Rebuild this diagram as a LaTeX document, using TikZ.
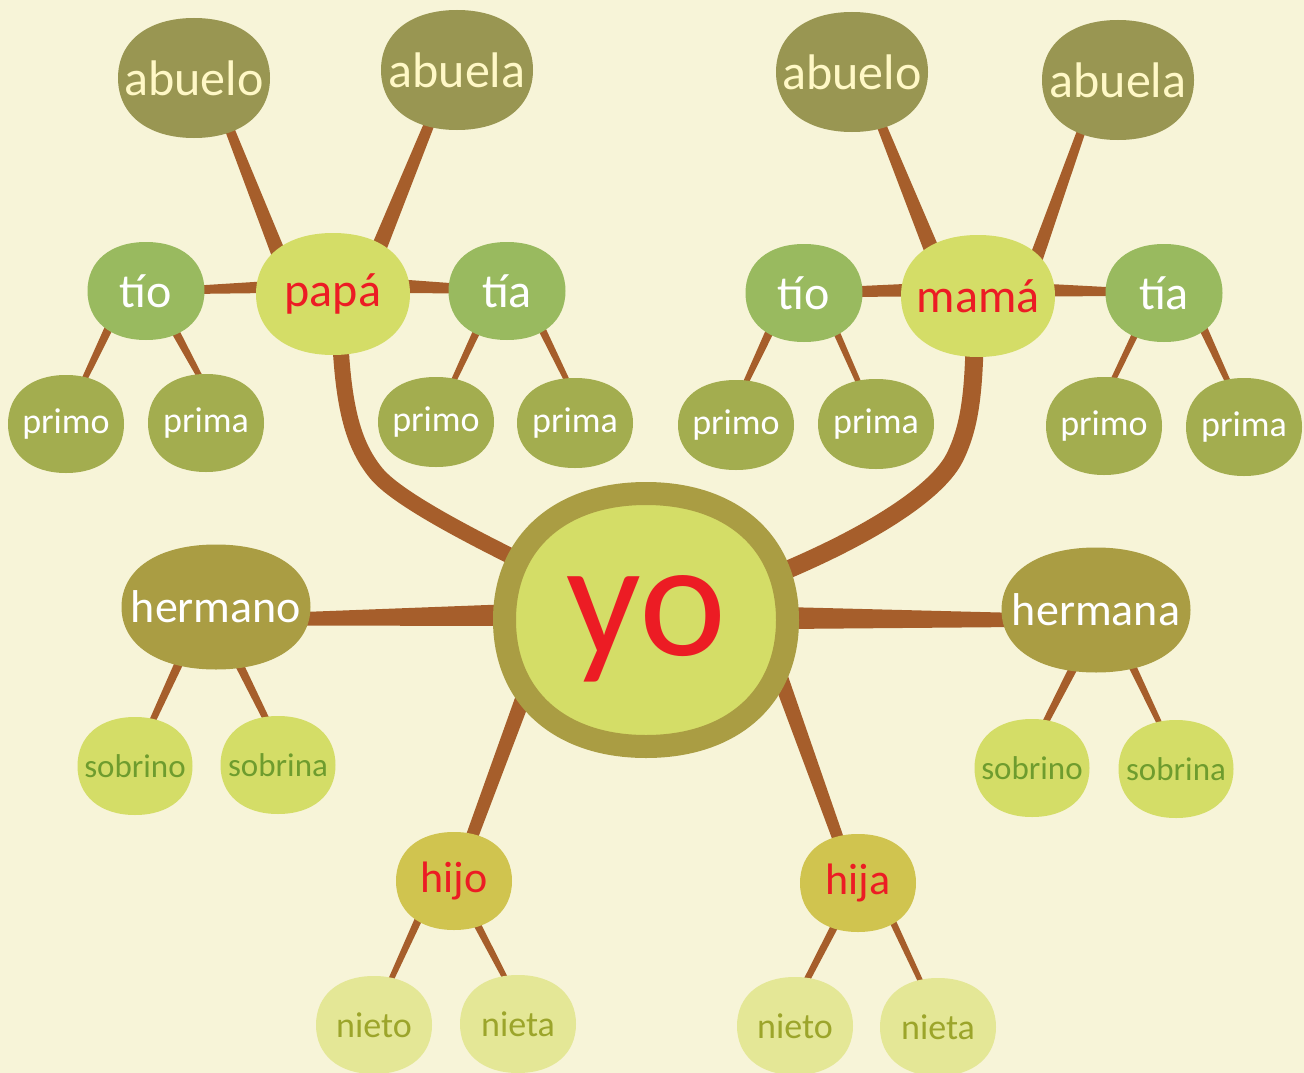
\documentclass[tikz,border=0pt]{standalone}
\usepackage{fontspec}
\setmainfont{Carlito}
\usetikzlibrary{calc}
\definecolor{cBg}{HTML}{F7F4D8}
\definecolor{cAbu}{HTML}{999652}
\definecolor{cAbuT}{HTML}{FFF8C6}
\definecolor{cPar}{HTML}{D4DD67}
\definecolor{cRed}{HTML}{EC1C24}
\definecolor{cTio}{HTML}{99BA5F}
\definecolor{cPrim}{HTML}{A3AD4F}
\definecolor{cRing}{HTML}{AA9D43}
\definecolor{cSobT}{HTML}{6E9C2E}
\definecolor{cHij}{HTML}{D0C44F}
\definecolor{cNiet}{HTML}{E4E796}
\definecolor{cNietT}{HTML}{9CA52B}
\definecolor{cBr}{HTML}{A65E2B}
\pgfdeclarelayer{bglayer}
\pgfdeclarelayer{connlayer}
\pgfdeclarelayer{bloblayer}
\pgfsetlayers{bglayer,connlayer,bloblayer,main}
% tapered branch: #1 start, #2 end, #3 half width at start, #4 half width at end
\newcommand\branch[4]{%
  \path #1 coordinate (bA) #2 coordinate (bB);
  \fill[brn] ($(bA)!#3!90:(bB)$) -- ($(bB)!#4!-90:(bA)$) -- ($(bB)!#4!90:(bA)$) -- ($(bA)!#3!-90:(bB)$) -- cycle;}
% squircle outline through the four side anchors of a node
\newcommand\bk{0.61}
\newcommand\blobpath[1]{(#1.east) .. controls ($(#1.east)!\bk!(#1.north east)$) and ($(#1.north)!\bk!(#1.north east)$) .. (#1.north) .. controls ($(#1.north)!\bk!(#1.north west)$) and ($(#1.west)!\bk!(#1.north west)$) .. (#1.west) .. controls ($(#1.west)!\bk!(#1.south west)$) and ($(#1.south)!\bk!(#1.south west)$) .. (#1.south) .. controls ($(#1.south)!\bk!(#1.south east)$) and ($(#1.east)!\bk!(#1.south east)$) .. (#1.east) -- cycle}
\tikzset{
  blob/.style={rectangle, inner sep=0pt, outer sep=0pt, align=center},
  abu/.style={blob, text=cAbuT, minimum width=152pt, minimum height=120pt, font=\fontsize{50}{50}\selectfont},
  parent/.style={blob, text=cRed, minimum width=154pt, minimum height=122pt, font=\fontsize{48}{48}\selectfont},
  tio/.style={blob, text=white, minimum width=117pt, minimum height=98pt, font=\fontsize{48}{48}\selectfont},
  prim/.style={blob, text=white, minimum width=116pt, minimum height=90pt, font=\fontsize{36}{36}\selectfont},
  herm/.style={blob, text=white, minimum width=189pt, minimum height=125pt, font=\fontsize{46}{46}\selectfont},
  sob/.style={blob, text=cSobT, minimum width=115pt, minimum height=98pt, font=\fontsize{33}{33}\selectfont},
  hij/.style={blob, text=cRed, minimum width=116pt, minimum height=98pt, font=\fontsize{44}{44}\selectfont},
  niet/.style={blob, text=cNietT, minimum width=116pt, minimum height=98pt, font=\fontsize{36}{36}\selectfont},
  yostyle/.style={blob, minimum width=283pt, minimum height=253pt, text=cRed, text depth=0pt, font=\fontsize{165}{165}\selectfont},
  brn/.style={fill=cBr},
  trunk/.style={draw=cBr, line width=#1, line cap=round},
}
\begin{document}
\begin{tikzpicture}[x=1pt,y=-1pt]
\begin{pgfonlayer}{bglayer}
\fill[cBg] (0,0) rectangle (1304,1073);
\end{pgfonlayer}
\useasboundingbox (0,0) rectangle (1304,1073);

% father's side
\node[abu] (abueloL) at (194,78) {abuelo};
\node[abu] (abuelaL) at (457,70) {abuela};
\node[parent] (papa) at (333,294) {papá};
\node[tio] (tioL) at (146,291) {tío};
\node[tio] (tiaL) at (507,291) {tía};
\node[prim, minimum height=98pt] (primo1) at (66,424) {primo};
\node[prim, minimum height=98pt] (prima1) at (206,423) {prima};
\node[prim] (primo2) at (436,422) {primo};
\node[prim] (prima2) at (575,423) {prima};

% mother's side
\node[abu] (abueloR) at (852,72) {abuelo};
\node[abu] (abuelaR) at (1118,80) {abuela};
\node[parent] (mama) at (978,296) {mamá};
\node[tio] (tioR) at (804,293) {tío};
\node[tio] (tiaR) at (1164,293) {tía};
\node[prim] (primo3) at (736,425) {primo};
\node[prim] (prima3) at (876,424) {prima};
\node[prim, minimum height=98pt] (primo4) at (1104,426) {primo};
\node[prim, minimum height=98pt] (prima4) at (1244,427) {prima};

% centre and below
\node[yostyle] (yo) at (646,620) {\raisebox{10pt}{yo}};
\node[herm] (hermano) at (216,607) {hermano};
\node[herm] (hermana) at (1096,610) {hermana};
\node[sob] (sobrino1) at (135,766) {sobrino};
\node[sob] (sobrina1) at (278,765) {sobrina};
\node[sob] (sobrino2) at (1032,768) {sobrino};
\node[sob] (sobrina2) at (1176,769) {sobrina};
\node[hij] (hijo) at (454,881) {hijo};
\node[hij] (hija) at (858,883) {hija};
\node[niet] (nieto1) at (374,1025) {nieto};
\node[niet] (nieta1) at (518,1024) {nieta};
\node[niet] (nieto2) at (795,1026) {nieto};
\node[niet] (nieta2) at (938,1027) {nieta};

% blob bodies
\begin{pgfonlayer}{bloblayer}
\foreach \n/\c in {abueloL/cAbu, abuelaL/cAbu, abueloR/cAbu, abuelaR/cAbu,
  papa/cPar, mama/cPar, tioL/cTio, tiaL/cTio, tioR/cTio, tiaR/cTio,
  primo1/cPrim, prima1/cPrim, primo2/cPrim, prima2/cPrim,
  primo3/cPrim, prima3/cPrim, primo4/cPrim, prima4/cPrim,
  hermano/cRing, hermana/cRing, sobrino1/cPar, sobrina1/cPar, sobrino2/cPar, sobrina2/cPar,
  hijo/cHij, hija/cHij, nieto1/cNiet, nieta1/cNiet, nieto2/cNiet, nieta2/cNiet}
  {\fill[\c] \blobpath{\n};}
\filldraw[fill=cPar, draw=cRing, line width=23pt] \blobpath{yo};
\end{pgfonlayer}

\begin{pgfonlayer}{connlayer}
% papá
\branch{($(papa.center)+(-50,-29)$)}{($(abueloL.center)+(30,37)$)}{7.5pt}{4.5pt}
\branch{($(papa.center)+(39,-29)$)}{($(abuelaL.center)+(-22,40)$)}{8pt}{5pt}
\branch{($(papa.center)+(-63,-7)$)}{($(tioL.center)+(44,-1)$)}{6pt}{4pt}
\branch{($(papa.center)+(62,-8)$)}{($(tiaL.center)+(-37,-2)$)}{7pt}{4.5pt}
\branch{($(tioL.center)+(-31,24)$)}{($(primo1.center)+(11,-29)$)}{4.5pt}{2.5pt}
\branch{($(tioL.center)+(22,27)$)}{($(prima1.center)+(1,-33)$)}{4.5pt}{2.5pt}
\branch{($(tiaL.center)+(-24,27)$)}{($(primo2.center)+(11,-27)$)}{4pt}{2.5pt}
\branch{($(tiaL.center)+(28,24)$)}{($(prima2.center)+(-1,-28)$)}{4pt}{2.5pt}
% mamá
\branch{($(mama.center)+(-39,-28)$)}{($(abueloR.center)+(24,40)$)}{8pt}{4.5pt}
\branch{($(mama.center)+(54,-26)$)}{($(abuelaR.center)+(-32,38)$)}{7pt}{4pt}
\branch{($(mama.center)+(-63,-6)$)}{($(tioR.center)+(36,-1)$)}{6.5pt}{5pt}
\branch{($(mama.center)+(62,-6)$)}{($(tiaR.center)+(-39,-1)$)}{6.5pt}{4pt}
\branch{($(tioR.center)+(-28,25)$)}{($(primo3.center)+(4,-30)$)}{4.5pt}{2.5pt}
\branch{($(tioR.center)+(27,27)$)}{($(prima3.center)+(-11,-27)$)}{3.5pt}{2.5pt}
\branch{($(tiaR.center)+(-22,27)$)}{($(primo4.center)+(2,-31)$)}{3.5pt}{2.5pt}
\branch{($(tiaR.center)+(33,22)$)}{($(prima4.center)+(-9,-30)$)}{4.5pt}{2.5pt}
% yo
\branch{($(yo.center)+(-132,-5)$)}{($(hermano.center)+(74,12)$)}{11pt}{6.5pt}
\branch{($(yo.center)+(138,-2)$)}{($(hermana.center)+(-76,10)$)}{11pt}{7pt}
\branch{($(yo.center)+(-109,40)$)}{($(hijo.center)+(13,-31)$)}{8pt}{6pt}
\branch{($(yo.center)+(128,40)$)}{($(hija.center)+(-14,-28)$)}{8pt}{5.5pt}
% hermanos
\branch{($(hermano.center)+(-31,43)$)}{($(sobrino1.center)+(11,-31)$)}{4.5pt}{3pt}
\branch{($(hermano.center)+(16,43)$)}{($(sobrina1.center)+(-4,-30)$)}{4.5pt}{3pt}
\branch{($(hermana.center)+(-16,45)$)}{($(sobrino2.center)+(7,-33)$)}{4.5pt}{3pt}
\branch{($(hermana.center)+(31,45)$)}{($(sobrina2.center)+(-10,-32)$)}{4pt}{2.5pt}
% hijos
\branch{($(hijo.center)+(-29,24)$)}{($(nieto1.center)+(10,-30)$)}{4pt}{2.5pt}
\branch{($(hijo.center)+(13,24)$)}{($(nieta1.center)+(-4,-29)$)}{4pt}{2.5pt}
\branch{($(hija.center)+(-14,25)$)}{($(nieto2.center)+(4,-31)$)}{4pt}{3pt}
\branch{($(hija.center)+(27,22)$)}{($(nieta2.center)+(-11,-32)$)}{3.5pt}{2.5pt}
% curved trunks to the parents
\draw[trunk=16pt] ($(papa.center)+(6,0)$) .. controls (340,400) and (351,442) .. (376,473)
  .. controls (401,504) and (510,558) .. (yo.center);
\draw[trunk=18pt] ($(mama.center)+(-3,0)$) .. controls (975,380) and (972.6,421) .. (955,457)
  .. controls (930,508) and (800,575) .. (yo.center);
\end{pgfonlayer}
\end{tikzpicture}
\end{document}
